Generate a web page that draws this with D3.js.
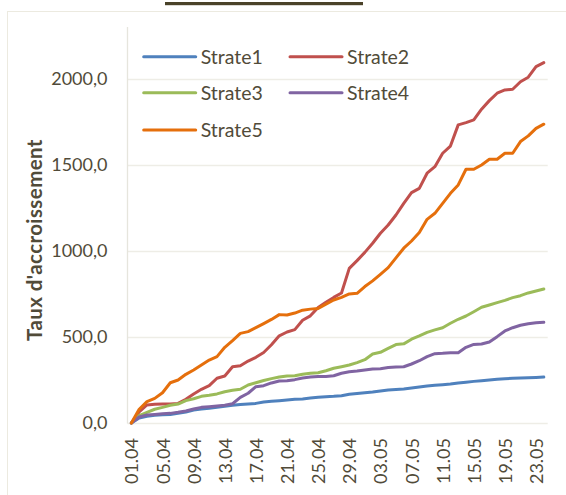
<!DOCTYPE html>
<html><head><meta charset="utf-8">
<script src="https://cdn.jsdelivr.net/npm/d3@7"></script>
<style>body{margin:0;background:#fff}svg{display:block}text{font-family:Lato,"Open Sans",sans-serif}</style>
</head><body><svg id="c" width="566" height="495"></svg>
<script>
const dates = ["01.04","02.04","03.04","04.04","05.04","06.04","07.04","08.04","09.04","10.04","11.04","12.04","13.04","14.04","15.04","16.04","17.04","18.04","19.04","20.04","21.04","22.04","23.04","24.04","25.04","26.04","27.04","28.04","29.04","30.04","01.05","02.05","03.05","04.05","05.05","06.05","07.05","08.05","09.05","10.05","11.05","12.05","13.05","14.05","15.05","16.05","17.05","18.05","19.05","20.05","21.05","22.05","23.05","24.05"];
const tickLabels = ["01.04","05.04","09.04","13.04","17.04","21.04","25.04","29.04","03.05","07.05","11.05","15.05","19.05","23.05"];
const yTicks = [0,500,1000,1500,2000];
const seriesNames = ["Strate1","Strate2","Strate3","Strate4","Strate5"];
const seriesColors = ["#4F81BD","#C0504D","#9BBB59","#8064A2","#E56F0C"];
const strate1 = [0,29,39,45,48,50,56,64,76,81,85,91,97,103,107,110,114,122,126,130,134,138,140,145,149,153,155,159,167,172,176,180,186,192,195,198,203,209,215,219,223,227,233,237,242,246,250,254,257,260,261,263,265,267];
const strate2 = [0,65,105,109,110,110,114,138,169,196,217,260,273,327,333,360,382,410,455,507,529,543,597,623,672,702,730,756,899,944,992,1045,1103,1151,1209,1277,1339,1364,1452,1490,1568,1610,1733,1746,1762,1824,1874,1917,1936,1940,1984,2010,2072,2095];
const strate3 = [0,43,62,80,91,103,110,130,141,155,161,169,182,190,196,221,234,247,258,267,273,275,283,289,292,304,318,327,337,351,368,401,411,434,456,460,487,506,527,541,554,580,603,622,647,673,686,700,713,729,740,756,767,779];
const strate4 = [0,35,47,50,54,56,62,70,81,91,95,99,103,112,149,173,211,217,233,244,246,252,262,267,271,271,275,289,298,302,308,314,316,322,325,327,343,362,386,403,405,409,408,440,457,459,471,502,535,554,568,577,583,585];
const strate5 = [0,80,124,143,176,234,250,283,308,337,366,386,440,479,521,531,554,578,602,630,628,639,656,662,666,691,715,730,750,754,793,826,864,903,960,1016,1058,1107,1184,1219,1277,1335,1384,1475,1475,1500,1533,1533,1568,1568,1636,1669,1713,1737];
const series = [strate1,strate2,strate3,strate4,strate5];
const yTitle = "Taux d'accroissement";

const svg = d3.select("#c");
const textColor = "#514b39";
const L = 127.5, R = 547.7, T = 27, B = 423;
const x = d3.scalePoint().domain(dates).range([L, R]).padding(0.5);
const y = d3.scaleLinear().domain([0, 2302]).range([B, T]);

// chart border & title bar
svg.append("rect").attr("x",7.5).attr("y",11.5).attr("width",700).attr("height",700)
  .attr("fill","none").attr("stroke","#ECEAE0").attr("stroke-width",1);
svg.append("rect").attr("x",165).attr("y",2).attr("width",198).attr("height",3.2).attr("fill","#4a4229");

// gridlines
svg.append("g").selectAll("line").data(yTicks).join("line")
  .attr("x1",L).attr("x2",R).attr("y1",d=>Math.round(y(d))+0.5).attr("y2",d=>Math.round(y(d))+0.5)
  .attr("stroke","#EEEDE6").attr("stroke-width",1.3);
svg.append("line").attr("x1",L).attr("x2",L).attr("y1",T).attr("y2",B+0.5)
  .attr("stroke","#E6E5DD").attr("stroke-width",1.3);

// y axis labels
const yAxis = d3.axisLeft(y).tickValues(yTicks).tickSize(0).tickPadding(0)
  .tickFormat(d=>d3.format(".1f")(d).replace(".",","));
const gy = svg.append("g").attr("transform",`translate(${107.5},0)`).call(yAxis);
gy.select(".domain").remove();
gy.selectAll("text").attr("fill",textColor).style("font-size","18px").style("font-family","Lato");

// x axis labels
const xAxis = d3.axisBottom(x).tickValues(tickLabels).tickSize(0).tickPadding(0);
const gx = svg.append("g").attr("transform",`translate(0,${B})`).call(xAxis);
gx.select(".domain").remove();
gx.selectAll("text").attr("fill",textColor).style("font-size","18px").style("font-family","Lato")
  .attr("text-anchor","end").attr("transform","translate(0,15) rotate(-90)")
  .attr("x",0).attr("y",0).attr("dy","0.36em");

// y title
svg.append("text").attr("transform","translate(35,240) rotate(-90)")
  .attr("text-anchor","middle").attr("dy","0.36em").attr("fill",textColor)
  .style("font-size","20.5px").style("font-weight","bold").style("letter-spacing","0.4px").text(yTitle);

// lines
const line = d3.line().x((d,i)=>x(dates[i])).y(d=>y(d));
svg.append("g").selectAll("path").data(series).join("path")
  .attr("d",d=>line(d)).attr("fill","none")
  .attr("stroke",(d,i)=>seriesColors[i]).attr("stroke-width",3)
  .attr("stroke-linejoin","round").attr("stroke-linecap","round");

// legend
const legPos = [[143.7,56.7],[290,56.7],[143.7,92.7],[290,92.7],[143.7,130]];
const lg = svg.append("g").selectAll("g").data(seriesNames).join("g")
  .attr("transform",(d,i)=>`translate(${legPos[i][0]},${legPos[i][1]})`);
lg.append("line").attr("x1",0).attr("x2",52).attr("y1",0).attr("y2",0)
  .attr("stroke",(d,i)=>seriesColors[i]).attr("stroke-width",3).attr("stroke-linecap","round");
lg.append("text").attr("x",57).attr("dy","0.36em").attr("fill",textColor)
  .style("font-size","19.5px").text(d=>d);
</script></body></html>
